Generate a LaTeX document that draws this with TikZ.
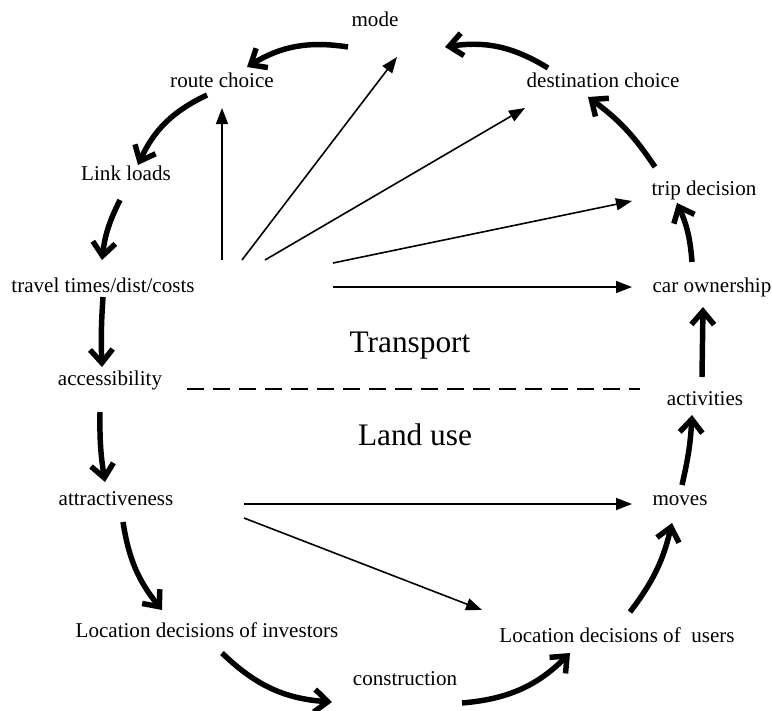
\documentclass[tikz,border=0pt]{standalone}
\usepackage{fontspec}
\setmainfont{Liberation Serif}
\usetikzlibrary{arrows.meta}
\tikzset{every picture/.style={x=0.75pt, y=0.75pt}}
\tikzstyle{lbl}=[inner sep=0pt, anchor=base, font=\fontsize{15.8}{18}\selectfont]
\tikzstyle{big}=[inner sep=0pt, anchor=base, font=\fontsize{23.5}{28}\selectfont]
\tikzstyle{loop arrow}=[line width=4.1pt, -{Straight Barb[length=10pt,width=17pt]}]
\tikzstyle{link arrow}=[line width=1.2pt, -{Triangle[length=12pt,width=9pt]}]

\begin{document}
\begin{tikzpicture}
        \useasboundingbox (0,0) rectangle (772,-711);
        % circle of decisions
        \node [lbl] (mode) at (375,-26) {mode};
        \node [lbl] (route) at (222,-87) {route choice};
        \node [lbl] (dest) at (603,-87) {destination choice};
        \node [lbl] (link) at (126,-180) {Link loads};
        \node [lbl] (trip) at (704,-195) {trip decision};
        \node [lbl] (travel) at (103,-292) {travel times/dist/costs};
        \node [lbl] (car) at (712,-292) {car ownership};
        \node [lbl] (access) at (110,-385) {accessibility};
        \node [lbl] (activ) at (705,-405) {activities};
        \node [lbl] (attract) at (116,-505) {attractiveness};
        \node [lbl] (moves) at (680,-505) {moves};
        \node [lbl] (invest) at (207,-637) {Location decisions of investors};
        \node [lbl] (users) at (617,-642) {Location decisions of~ users};
        \node [lbl] (constr) at (405,-685) {construction};
        \node [big] (transp) at (410,-352) {Transport};
        \node [big] (landuse) at (415,-445) {Land use};
        % boundary
        \draw [line width=1.1pt, dash pattern=on 13pt off 6.5pt] ([shift={(77,-4)}]access.base) -- ([shift={(-65,16)}]activ.base);
        % feedback loop
        \path [loop arrow,bend right=20] ([shift={(-27,-21)}]mode.base) edge ([shift={(25,20)}]route.base);
        \path [loop arrow,bend right=20] ([shift={(-55,19)}]dest.base) edge ([shift={(70,-21)}]mode.base);
        \path [loop arrow,bend right=20] ([shift={(-15,-8)}]route.base) edge ([shift={(12,15)}]link.base);
        \path [loop arrow,bend right=10] ([shift={(-6,-20)}]link.base) edge ([shift={(-1,32)}]travel.base);
        \path [loop arrow,bend right=3] ([shift={(0,-5)}]travel.base) edge ([shift={(-8,18)}]access.base);
        \path [loop arrow,bend right=5] ([shift={(-10,-27)}]access.base) edge ([shift={(-11,23)}]attract.base);
        \path [loop arrow,bend right=15] ([shift={(7,-17)}]attract.base) edge ([shift={(-45,27)}]invest.base);
        \path [loop arrow,bend right=20] ([shift={(15,-16)}]invest.base) edge ([shift={(-73,-17)}]constr.base);
        \path [loop arrow,bend right=20] ([shift={(57,-18)}]constr.base) edge ([shift={(-47,-11)}]users.base);
        \path [loop arrow,bend right=12] ([shift={(13,30)}]users.base) edge ([shift={(-8,-18)}]moves.base);
        \path [loop arrow,bend right=5] ([shift={(2,20)}]moves.base) edge ([shift={(-13,-10)}]activ.base);
        \path [loop arrow] ([shift={(-3,28)}]activ.base) edge ([shift={(-9,-15)}]car.base);
        \path [loop arrow,bend right=10] ([shift={(-20,30)}]car.base) edge ([shift={(-27,-8)}]trip.base);
        \path [loop arrow,bend right=10] ([shift={(-49,28)}]trip.base) edge ([shift={(-15,-10)}]dest.base);
        % direct influences
        \draw [link arrow] ([shift={(119,32)}]travel.base) -- ([shift={(0,-21)}]route.base);
        \draw [link arrow] ([shift={(139,32)}]travel.base) -- ([shift={(22,-31)}]mode.base);
        \draw [link arrow] ([shift={(162,32)}]travel.base) -- ([shift={(-78,-21)}]dest.base);
        \draw [link arrow] ([shift={(230,29)}]travel.base) -- ([shift={(-72,-6)}]trip.base);
        \draw [link arrow] ([shift={(230,5)}]travel.base) -- ([shift={(-80,5)}]car.base);
        \draw [link arrow] ([shift={(128,1)}]attract.base) -- ([shift={(-48,1)}]moves.base);
        \draw [link arrow] ([shift={(128,-13)}]attract.base) -- ([shift={(-135,32)}]users.base);
\end{tikzpicture}
\end{document}
